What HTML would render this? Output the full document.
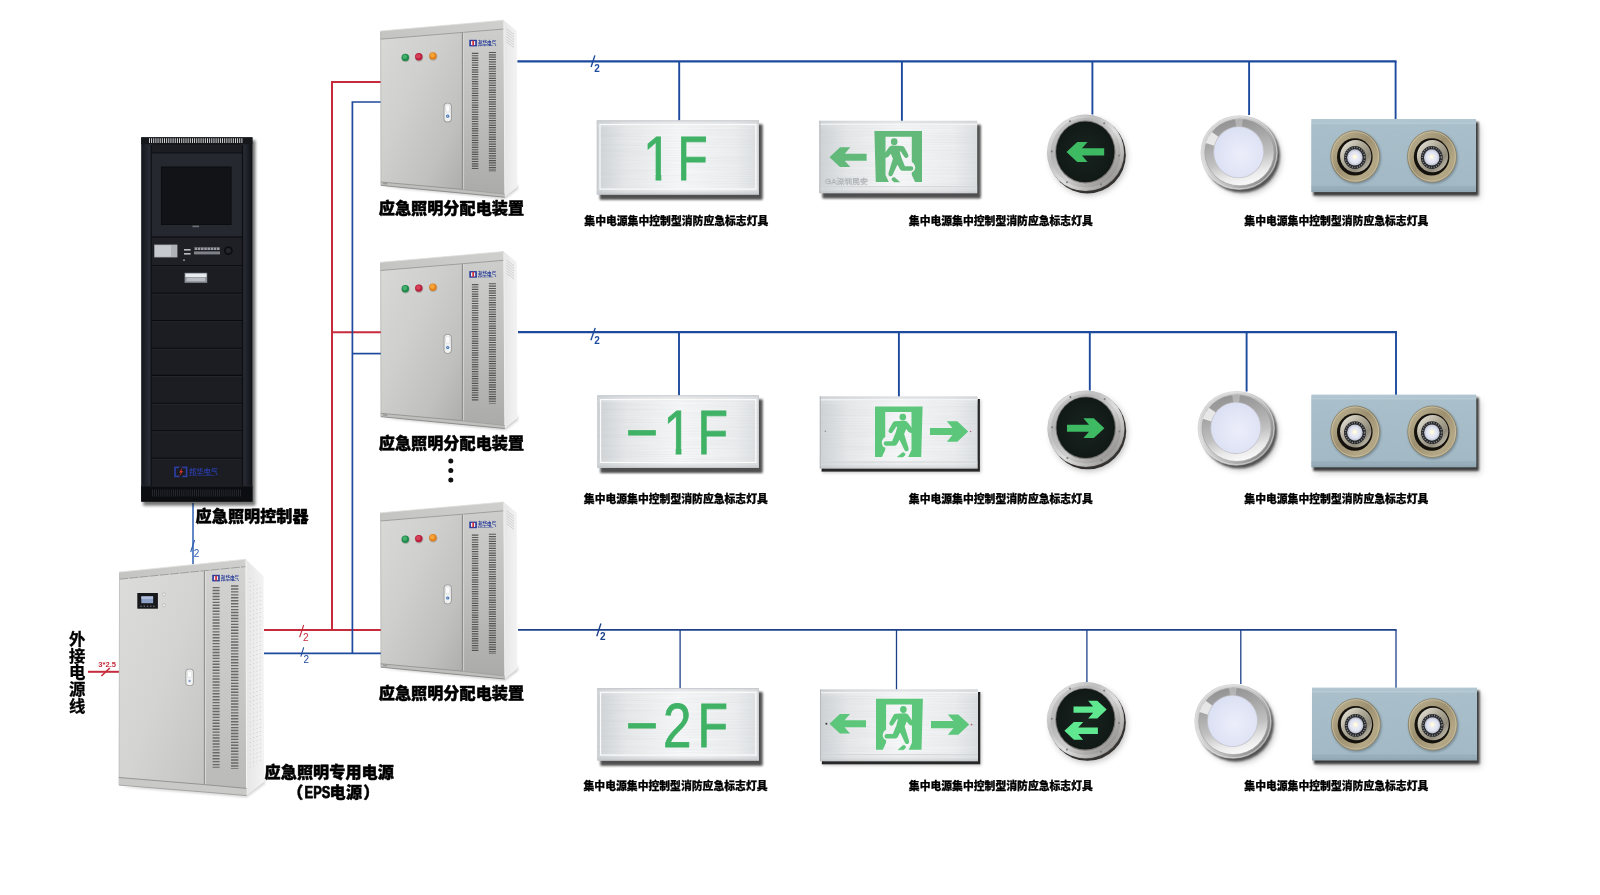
<!DOCTYPE html>
<html lang="zh-CN">
<head>
<meta charset="utf-8">
<title>应急照明系统图</title>
<style>
html,body{margin:0;padding:0;background:#fff;}
body{width:1600px;height:895px;overflow:hidden;}
svg{display:block;font-family:"Liberation Sans","Noto Sans CJK SC",sans-serif;will-change:transform;}
</style>
</head>
<body>
<svg width="1600" height="895" viewBox="0 0 1600 895">
<rect width="1600" height="895" fill="#ffffff"/>

<defs>
  <filter id="blur1" x="-20%" y="-20%" width="140%" height="140%"><feGaussianBlur stdDeviation="1"/></filter>
  <filter id="blur2" x="-20%" y="-20%" width="140%" height="140%"><feGaussianBlur stdDeviation="1.8"/></filter>
  <filter id="blur3" x="-20%" y="-20%" width="140%" height="140%"><feGaussianBlur stdDeviation="3"/></filter>
  <filter id="brush" x="0" y="0" width="100%" height="100%">
    <feTurbulence type="fractalNoise" baseFrequency="0.012 0.85" numOctaves="2" seed="7" result="n"/>
    <feColorMatrix in="n" type="matrix" values="0 0 0 0 0.35  0 0 0 0 0.37  0 0 0 0 0.39  0.9 0 0 0 -0.28"/>
    <feComposite in2="SourceGraphic" operator="in"/>
  </filter>
  <filter id="soft" x="-5%" y="-5%" width="110%" height="110%"><feGaussianBlur stdDeviation="0.45"/></filter>

  <!-- cabinet gradients -->
  <linearGradient id="gDoor" x1="0" y1="0" x2="1" y2="1">
    <stop offset="0" stop-color="#d9d9d7"/><stop offset="0.4" stop-color="#cfcfcd"/><stop offset="0.75" stop-color="#c0c0be"/><stop offset="1" stop-color="#adadab"/>
  </linearGradient>
  <linearGradient id="gPanel" x1="0" y1="0" x2="0" y2="1">
    <stop offset="0" stop-color="#cfcfcd"/><stop offset="0.5" stop-color="#bfbfbd"/><stop offset="1" stop-color="#aaaaa8"/>
  </linearGradient>
  <linearGradient id="gDoorE" x1="0" y1="0" x2="1" y2="1">
    <stop offset="0" stop-color="#dcdcda"/><stop offset="0.5" stop-color="#d4d4d2"/><stop offset="1" stop-color="#c3c3c1"/>
  </linearGradient>
  <linearGradient id="gPanelE" x1="0" y1="0" x2="0" y2="1">
    <stop offset="0" stop-color="#d3d3d1"/><stop offset="0.6" stop-color="#c6c6c4"/><stop offset="1" stop-color="#b9b9b7"/>
  </linearGradient>
  <linearGradient id="gSide" x1="0" y1="0" x2="1" y2="0">
    <stop offset="0" stop-color="#e6e6e6"/><stop offset="1" stop-color="#f3f3f3"/>
  </linearGradient>
  <linearGradient id="gCap" x1="0" y1="0" x2="1" y2="0">
    <stop offset="0" stop-color="#c4c4c2"/><stop offset="1" stop-color="#cfcfcd"/>
  </linearGradient>

  <!-- sign plates -->
  <linearGradient id="gPlate" x1="0" y1="0" x2="1" y2="0">
    <stop offset="0" stop-color="#cfd3d6"/><stop offset="0.18" stop-color="#e6e8ea"/><stop offset="0.5" stop-color="#f6f7f8"/><stop offset="0.85" stop-color="#eceef0"/><stop offset="1" stop-color="#dcdfe2"/>
  </linearGradient>
  <linearGradient id="gPlateV" x1="0" y1="0" x2="0" y2="1">
    <stop offset="0" stop-color="#c8ccd0" stop-opacity="0.55"/><stop offset="0.12" stop-color="#ffffff" stop-opacity="0"/><stop offset="0.88" stop-color="#ffffff" stop-opacity="0"/><stop offset="1" stop-color="#b8bcc0" stop-opacity="0.6"/>
  </linearGradient>
  <linearGradient id="gBrush" x1="0" y1="0" x2="1" y2="0">
    <stop offset="0" stop-color="#c4c8cb"/><stop offset="0.25" stop-color="#dfe1e3"/><stop offset="0.55" stop-color="#f1f2f3"/><stop offset="0.8" stop-color="#e2e4e6"/><stop offset="1" stop-color="#d2d5d8"/>
  </linearGradient>

  <!-- round sign ring -->
  <linearGradient id="gRing" x1="0" y1="0" x2="1" y2="1">
    <stop offset="0" stop-color="#d8d8d8"/><stop offset="0.3" stop-color="#b4b4b4"/><stop offset="0.55" stop-color="#cecece"/><stop offset="0.8" stop-color="#9e9c9a"/><stop offset="1" stop-color="#68645f"/>
  </linearGradient>
  <linearGradient id="gRingHi" x1="0" y1="0" x2="1" y2="1">
    <stop offset="0" stop-color="#ffffff" stop-opacity="0.55"/><stop offset="0.35" stop-color="#ffffff" stop-opacity="0.1"/><stop offset="0.55" stop-color="#ffffff" stop-opacity="0.35"/><stop offset="1" stop-color="#ffffff" stop-opacity="0"/>
  </linearGradient>
  <radialGradient id="gDisc" cx="0.5" cy="0.5" r="0.5">
    <stop offset="0" stop-color="#18241f"/><stop offset="1" stop-color="#111916"/>
  </radialGradient>

  <!-- down light -->
  <linearGradient id="gDLo" x1="0" y1="0.2" x2="1" y2="0.8">
    <stop offset="0" stop-color="#cdcdcd"/><stop offset="0.25" stop-color="#d9d9d9"/><stop offset="0.6" stop-color="#bcbcbc"/><stop offset="1" stop-color="#7c7c7c"/>
  </linearGradient>
  <linearGradient id="gDLi" x1="0.35" y1="0" x2="0.6" y2="1">
    <stop offset="0" stop-color="#929292"/><stop offset="0.3" stop-color="#a6a6a6"/><stop offset="0.6" stop-color="#c0c0c0"/><stop offset="0.82" stop-color="#e8e8e8"/><stop offset="1" stop-color="#fbfbfb"/>
  </linearGradient>
  <radialGradient id="gLens" cx="0.55" cy="0.55" r="0.6">
    <stop offset="0" stop-color="#eceefa"/><stop offset="1" stop-color="#dadff3"/>
  </radialGradient>

  <!-- twin spot -->
  <linearGradient id="gSpotPlate" x1="0" y1="0" x2="0" y2="1">
    <stop offset="0" stop-color="#b4c9d4"/><stop offset="0.08" stop-color="#a9c0cc"/><stop offset="0.9" stop-color="#a3bac6"/><stop offset="1" stop-color="#8da5b1"/>
  </linearGradient>
  <linearGradient id="gBrass" x1="0" y1="0" x2="1" y2="1">
    <stop offset="0" stop-color="#c2b796"/><stop offset="0.45" stop-color="#9c9070"/><stop offset="0.75" stop-color="#b3a786"/><stop offset="1" stop-color="#a89c7c"/>
  </linearGradient>
  <linearGradient id="gSteel" x1="0" y1="0" x2="1" y2="1">
    <stop offset="0" stop-color="#efede4"/><stop offset="0.4" stop-color="#b3ad9b"/><stop offset="0.7" stop-color="#8f8a7a"/><stop offset="1" stop-color="#dcd8ca"/>
  </linearGradient>
  <radialGradient id="gLamp" cx="0.5" cy="0.5" r="0.5">
    <stop offset="0" stop-color="#f4f4fb"/><stop offset="0.7" stop-color="#dfe2ef"/><stop offset="1" stop-color="#b9bccb"/>
  </radialGradient>

  <!-- black rack -->
  <linearGradient id="gRack" x1="0" y1="0" x2="1" y2="0">
    <stop offset="0" stop-color="#14161b"/><stop offset="0.08" stop-color="#2a2d36"/><stop offset="0.12" stop-color="#15171c"/><stop offset="0.88" stop-color="#15171c"/><stop offset="0.93" stop-color="#262931"/><stop offset="1" stop-color="#0f1014"/>
  </linearGradient>
</defs>

<g id="cab"><polygon points="383,187 505,199 518,189 518,185" fill="#777" opacity="0.35" filter="url(#blur1)"/><polygon points="503.7,20.2 516.8,31 517.4,187 504.8,197.1" fill="url(#gSide)"/><line x1="506.5" y1="29.0" x2="514" y2="34.5" stroke="#bdbdbd" stroke-width="0.6"/><line x1="506.5" y1="31.6" x2="514" y2="37.1" stroke="#bdbdbd" stroke-width="0.6"/><line x1="506.5" y1="34.2" x2="514" y2="39.7" stroke="#bdbdbd" stroke-width="0.6"/><line x1="506.5" y1="36.8" x2="514" y2="42.3" stroke="#bdbdbd" stroke-width="0.6"/><line x1="506.5" y1="39.4" x2="514" y2="44.9" stroke="#bdbdbd" stroke-width="0.6"/><line x1="506.5" y1="42.0" x2="514" y2="47.5" stroke="#bdbdbd" stroke-width="0.6"/><polygon points="380.4,31 462.4,24 462.4,193.2 380.8,185.3" fill="url(#gDoor)"/><polygon points="462.4,24 503.7,20.2 504.8,197.1 462.4,193.2" fill="url(#gPanel)"/><polygon points="380.4,31 503.7,20.2 503.9,29 380.4,39.2" fill="url(#gCap)"/><line x1="380.4" y1="39.2" x2="503.9" y2="29" stroke="#9a9a98" stroke-width="0.9"/><line x1="380.4" y1="31" x2="503.7" y2="20.2" stroke="#e2e2e0" stroke-width="0.8"/><line x1="462.4" y1="32.6" x2="462.4" y2="189.6" stroke="#8c8c8a" stroke-width="1.1"/><line x1="463.6" y1="32.6" x2="463.6" y2="189.6" stroke="#dededc" stroke-width="0.7"/><line x1="503.9" y1="21" x2="504.9" y2="196.8" stroke="#f0f0f0" stroke-width="1"/><line x1="380.7" y1="32" x2="381" y2="185" stroke="#b8b8b6" stroke-width="0.8"/><polygon points="380.8,182 462.4,189.4 504.7,194.2 504.8,197.3 462.4,193.4 380.8,185.5" fill="#bfbfbd"/><line x1="380.8" y1="182" x2="462.4" y2="189.4" stroke="#8e8e8c" stroke-width="0.8"/><line x1="462.4" y1="189.6" x2="504.7" y2="194.2" stroke="#9a9a98" stroke-width="0.7"/><line x1="380.8" y1="185.4" x2="504.8" y2="197.2" stroke="#8a8a88" stroke-width="0.9"/><rect x="383" y="182.8" width="4.2" height="1.6" fill="#9a9a98" transform="rotate(5 385 183.5)"/><circle cx="405.6" cy="58.1" r="4.2" fill="#9c9c9a" opacity="0.7"/><circle cx="405.3" cy="57.4" r="3.7" fill="#1f8a4a"/><circle cx="404.8" cy="56.8" r="2.3" fill="#45b06e"/><circle cx="419.1" cy="57.5" r="4.2" fill="#9c9c9a" opacity="0.7"/><circle cx="418.8" cy="56.8" r="3.7" fill="#b71f3a"/><circle cx="418.3" cy="56.199999999999996" r="2.3" fill="#d9405a"/><circle cx="433.2" cy="56.6" r="4.2" fill="#9c9c9a" opacity="0.7"/><circle cx="432.9" cy="55.9" r="3.7" fill="#e4801a"/><circle cx="432.4" cy="55.3" r="2.3" fill="#f6a53a"/><rect x="443.6" y="102.8" width="8.2" height="19.6" rx="3.6" fill="#9a9a98"/><rect x="444.5" y="103.4" width="6.4" height="18.2" rx="3" fill="#eef0f2"/><rect x="445.6" y="105" width="4.2" height="7" rx="1.6" fill="#fbfbfb" stroke="#c8c8c8" stroke-width="0.4"/><circle cx="447.7" cy="116.2" r="1.6" fill="#3d6fb0"/><circle cx="447.7" cy="116.2" r="0.6" fill="#dfe8f5"/><g><rect x="469.3" y="39.8" width="7.589999999999999" height="6.6" fill="#2b3c9c"/><rect x="470.9698" y="41.12" width="4.2504" height="3.9599999999999995" fill="#e9e9ee"/><rect x="472.336" y="40.592" width="1.6697999999999997" height="5.016" fill="#d22a36"/><text x="477.89" y="44.552" font-size="5.28" font-weight="700" fill="#2a3f9a" textLength="18.41" lengthAdjust="spacingAndGlyphs">邦华电气</text><rect x="477.89" y="45.343999999999994" width="15.41" height="0.7" fill="#2a3f9a" opacity="0.6"/></g><line x1="475.1" y1="52.8" x2="475.1" y2="170" stroke="#3f3f3d" stroke-width="6.5" stroke-dasharray="1.15 1.2" opacity="0.82"/><line x1="492.4" y1="51.9" x2="492.4" y2="172.1" stroke="#3f3f3d" stroke-width="7.1" stroke-dasharray="1.15 1.2" opacity="0.82"/></g>
<use href="#cab" y="231.3"/>
<use href="#cab" y="481.8"/>
<polyline points="380.6,82 332,82 332,630" fill="none" stroke="#c62b3c" stroke-width="2"/><line x1="332" y1="332.2" x2="380.8" y2="332.2" stroke="#c62b3c" stroke-width="2" /><line x1="264" y1="630" x2="380.8" y2="630" stroke="#c62b3c" stroke-width="2" /><polyline points="380.6,102 352.4,102 352.4,653.4" fill="none" stroke="#1d4a9d" stroke-width="1.7"/><line x1="352.4" y1="353.6" x2="380.8" y2="353.6" stroke="#1d4a9d" stroke-width="1.7" /><line x1="264" y1="653.4" x2="380.8" y2="653.4" stroke="#1d4a9d" stroke-width="1.7" /><line x1="303.7" y1="625" x2="299.6" y2="637.2" stroke="#c62b3c" stroke-width="1.1" /><text x="303" y="641" font-size="10" font-weight="400" fill="#c62b3c" text-anchor="start" >2</text><line x1="303.7" y1="647.3" x2="300.8" y2="656.6" stroke="#1d4a9d" stroke-width="1.1" /><text x="303.4" y="663.4" font-size="10" font-weight="400" fill="#1d4a9d" text-anchor="start" >2</text><line x1="193" y1="503" x2="193" y2="564.5" stroke="#2c5fb4" stroke-width="1.5" /><line x1="194.6" y1="540" x2="190.7" y2="552" stroke="#2c5fb4" stroke-width="1.1" /><text x="193.8" y="556.8" font-size="10" font-weight="400" fill="#2c5fb4" text-anchor="start" >2</text><line x1="88" y1="671.8" x2="119.5" y2="671.8" stroke="#c62b3c" stroke-width="2" /><line x1="101.4" y1="676" x2="109.8" y2="668" stroke="#c62b3c" stroke-width="1.6" /><text x="98.3" y="667.2" font-size="6.4" font-weight="700" fill="#c62b3c" text-anchor="start" textLength="17.8" lengthAdjust="spacingAndGlyphs">3*2.5</text>
<line x1="517.4" y1="61.4" x2="1396.55" y2="61.4" stroke="#1d4a9d" stroke-width="2.3" /><line x1="679.2" y1="61.4" x2="679.2" y2="121" stroke="#1d4a9d" stroke-width="1.9" /><line x1="901.9" y1="61.4" x2="901.9" y2="121.5" stroke="#1d4a9d" stroke-width="1.9" /><line x1="1092.4" y1="61.4" x2="1092.4" y2="114.5" stroke="#1d4a9d" stroke-width="1.9" /><line x1="1249.1" y1="61.4" x2="1249.1" y2="115" stroke="#1d4a9d" stroke-width="1.9" /><line x1="1395.6" y1="61.4" x2="1395.6" y2="119.5" stroke="#1d4a9d" stroke-width="1.9" /><line x1="594.9" y1="55.4" x2="591.1" y2="67" stroke="#1d4a9d" stroke-width="1.4" /><text x="594.2" y="71.5" font-size="10" font-weight="700" fill="#1d4a9d" text-anchor="start" >2</text>
<line x1="518" y1="332.2" x2="1396.95" y2="332.2" stroke="#1d4a9d" stroke-width="2.3" /><line x1="679" y1="332.2" x2="679" y2="396" stroke="#1d4a9d" stroke-width="1.9" /><line x1="898.9" y1="332.2" x2="898.9" y2="397" stroke="#1d4a9d" stroke-width="1.9" /><line x1="1089.8" y1="332.2" x2="1089.8" y2="390.5" stroke="#1d4a9d" stroke-width="1.9" /><line x1="1246.6" y1="332.2" x2="1246.6" y2="391.5" stroke="#1d4a9d" stroke-width="1.9" /><line x1="1396" y1="332.2" x2="1396" y2="395" stroke="#1d4a9d" stroke-width="1.9" /><line x1="595.2" y1="327.9" x2="590.9" y2="340.2" stroke="#1d4a9d" stroke-width="1.4" /><text x="594.3" y="344.3" font-size="10" font-weight="700" fill="#1d4a9d" text-anchor="start" >2</text>
<line x1="518" y1="629.9" x2="1396.65" y2="629.9" stroke="#1c4189" stroke-width="1.8" /><line x1="680.1" y1="629.9" x2="680.1" y2="689" stroke="#1c4189" stroke-width="1.3" /><line x1="896.5" y1="629.9" x2="896.5" y2="690" stroke="#1c4189" stroke-width="1.3" /><line x1="1086.9" y1="629.9" x2="1086.9" y2="682" stroke="#1c4189" stroke-width="1.3" /><line x1="1240.8" y1="629.9" x2="1240.8" y2="684" stroke="#1c4189" stroke-width="1.3" /><line x1="1396" y1="629.9" x2="1396" y2="688" stroke="#1c4189" stroke-width="1.3" /><line x1="600.9" y1="623.5" x2="596.8" y2="636.3" stroke="#1c4189" stroke-width="1.4" /><text x="599.9" y="640.3" font-size="10" font-weight="700" fill="#1c4189" text-anchor="start" >2</text>
<rect x="599.8" y="124.4" width="162.7" height="75.3" fill="#2e2e2e" opacity="0.85" filter="url(#blur1)"/><rect x="600.8" y="125.4" width="161.2" height="73.1" fill="#555" opacity="0.25" filter="url(#blur2)"/><rect x="596.8" y="120.4" width="162.2" height="74.1" fill="url(#gPlate)"/><rect x="596.8" y="120.4" width="162.2" height="74.1" fill="url(#gPlateV)"/><rect x="596.8" y="120.4" width="162.2" height="74.1" fill="#000" filter="url(#brush)" opacity="0.2"/><rect x="600.0" y="124.60000000000001" width="155.79999999999998" height="64.5" fill="none" stroke="#fbfbfb" stroke-width="1.2"/><rect x="597.1999999999999" y="120.80000000000001" width="161.39999999999998" height="73.3" fill="none" stroke="#c5c9cc" stroke-width="0.8"/><clipPath id="clipOne1"><path clip-rule="evenodd" d="M0,0 H1600 V895 H0 Z M644.73,174.10000000000002 H655.61 V181.8 H644.73 Z M661.28,174.10000000000002 H671.57 V181.8 H661.28 Z"/></clipPath><text y="179.8" font-size="63.2" font-weight="400" fill="#3fb266" stroke="#3fb266" stroke-width="0.8" clip-path="url(#clipOne1)"><tspan x="643.12" textLength="28.81" lengthAdjust="spacingAndGlyphs">1</tspan><tspan x="677.31" textLength="30.51" lengthAdjust="spacingAndGlyphs">F</tspan></text>
<rect x="600.4" y="399.4" width="162.1" height="73.60000000000001" fill="#2e2e2e" opacity="0.85" filter="url(#blur1)"/><rect x="601.4" y="400.4" width="160.6" height="71.4" fill="#555" opacity="0.25" filter="url(#blur2)"/><rect x="597.4" y="395.4" width="161.6" height="72.4" fill="url(#gPlate)"/><rect x="597.4" y="395.4" width="161.6" height="72.4" fill="url(#gPlateV)"/><rect x="597.4" y="395.4" width="161.6" height="72.4" fill="#000" filter="url(#brush)" opacity="0.2"/><rect x="600.6" y="399.59999999999997" width="155.2" height="62.800000000000004" fill="none" stroke="#fbfbfb" stroke-width="1.2"/><rect x="597.8" y="395.79999999999995" width="160.79999999999998" height="71.60000000000001" fill="none" stroke="#c5c9cc" stroke-width="0.8"/><clipPath id="clipOne2"><path clip-rule="evenodd" d="M0,0 H1600 V895 H0 Z M664.83,448.0 H675.71 V455.7 H664.83 Z M681.38,448.0 H691.67 V455.7 H681.38 Z"/></clipPath><text y="453.7" font-size="63.2" font-weight="400" fill="#3fb266" stroke="#3fb266" stroke-width="0.8" clip-path="url(#clipOne2)"><tspan x="625.67" textLength="32.48" lengthAdjust="spacingAndGlyphs">−</tspan><tspan x="663.22" textLength="28.81" lengthAdjust="spacingAndGlyphs">1</tspan><tspan x="697.61" textLength="30.51" lengthAdjust="spacingAndGlyphs">F</tspan></text>
<rect x="600.4" y="692.1" width="162.1" height="73.60000000000001" fill="#2e2e2e" opacity="0.85" filter="url(#blur1)"/><rect x="601.4" y="693.1" width="160.6" height="71.4" fill="#555" opacity="0.25" filter="url(#blur2)"/><rect x="597.4" y="688.1" width="161.6" height="72.4" fill="url(#gPlate)"/><rect x="597.4" y="688.1" width="161.6" height="72.4" fill="url(#gPlateV)"/><rect x="597.4" y="688.1" width="161.6" height="72.4" fill="#000" filter="url(#brush)" opacity="0.2"/><rect x="600.6" y="692.3000000000001" width="155.2" height="62.800000000000004" fill="none" stroke="#fbfbfb" stroke-width="1.2"/><rect x="597.8" y="688.5" width="160.79999999999998" height="71.60000000000001" fill="none" stroke="#c5c9cc" stroke-width="0.8"/><text y="746.7" font-size="63.2" font-weight="400" fill="#3fb266" stroke="#3fb266" stroke-width="0.8"><tspan x="625.67" textLength="32.48" lengthAdjust="spacingAndGlyphs">−</tspan><tspan x="662.94" textLength="28.46" lengthAdjust="spacingAndGlyphs">2</tspan><tspan x="697.61" textLength="30.51" lengthAdjust="spacingAndGlyphs">F</tspan></text>
<defs><g id="doorR"><g fill="#5cc67a" stroke="#5cc67a" stroke-width="1.5" stroke-linejoin="round"><path stroke="none" d="M0,0 H47.6 L46.2,50.5 H33.2 L36.5,43.6 V5.6 H10.2 V30.6 Q6.2,33 6.9,37.4 Q7.7,40.6 10.2,41 V43.6 L6.9,50.5 H0 Z"/><circle cx="27.8" cy="10.6" r="2.6"/><path d="M19.8,15.6 L29.3,15 Q31.3,15.2 32.4,16.6 L36.1,21.8 L39.6,23.6 L39.6,26.2 L35,25.4 Q34,25 33.4,24 L31,21 L28.3,27.4 L32.8,41.8 Q33.3,43.4 32,44 Q30.7,44.4 30,43 L24.6,31.6 L21.4,37.4 Q20.6,38.6 19.2,38.6 L11,38.6 Q9.4,38.4 9.4,37 Q9.5,35.7 11,35.6 L17.6,35.6 L21.4,26.4 L23.4,19.2 L20.8,19.6 L17,25.2 Q16,26.4 14.8,25.6 Q13.8,24.8 14.6,23.4 L18.2,16.8 Q18.8,15.7 19.8,15.6 Z"/><path stroke-width="0.5" d="M22.4,50.5 L27,46.4 Q28.2,45.6 29.4,46.4 L30,47.2 Q30.4,48.2 29.6,49 L27.8,50.5 Z"/></g></g><g id="doorM"><g fill="#62b97a" stroke="#62b97a" stroke-width="1.5" stroke-linejoin="round"><path stroke="none" d="M0,0 H47.6 L46.2,50.5 H33.2 L36.5,43.6 V5.6 H10.2 V30.6 Q6.2,33 6.9,37.4 Q7.7,40.6 10.2,41 V43.6 L6.9,50.5 H0 Z"/><circle cx="27.8" cy="10.6" r="2.6"/><path d="M19.8,15.6 L29.3,15 Q31.3,15.2 32.4,16.6 L36.1,21.8 L39.6,23.6 L39.6,26.2 L35,25.4 Q34,25 33.4,24 L31,21 L28.3,27.4 L32.8,41.8 Q33.3,43.4 32,44 Q30.7,44.4 30,43 L24.6,31.6 L21.4,37.4 Q20.6,38.6 19.2,38.6 L11,38.6 Q9.4,38.4 9.4,37 Q9.5,35.7 11,35.6 L17.6,35.6 L21.4,26.4 L23.4,19.2 L20.8,19.6 L17,25.2 Q16,26.4 14.8,25.6 Q13.8,24.8 14.6,23.4 L18.2,16.8 Q18.8,15.7 19.8,15.6 Z"/><path stroke-width="0.5" d="M22.4,50.5 L27,46.4 Q28.2,45.6 29.4,46.4 L30,47.2 Q30.4,48.2 29.6,49 L27.8,50.5 Z"/></g></g></defs>
<rect x="822.4" y="124.8" width="158.3" height="73.60000000000001" fill="#2e2e2e" opacity="0.85" filter="url(#blur1)"/><rect x="823.4" y="125.8" width="156.8" height="71.4" fill="#555" opacity="0.25" filter="url(#blur2)"/><rect x="819.4" y="120.8" width="157.8" height="72.4" fill="url(#gPlate)"/><rect x="819.4" y="120.8" width="157.8" height="72.4" fill="url(#gPlateV)"/><rect x="819.4" y="120.8" width="157.8" height="72.4" fill="#000" filter="url(#brush)" opacity="0.2"/><line x1="819.4" y1="124.2" x2="977.2" y2="124.2" stroke="#fafafa" stroke-width="1"/><line x1="819.4" y1="186.7" x2="977.2" y2="186.7" stroke="#c9cdd0" stroke-width="0.8"/><line x1="819.9" y1="120.8" x2="819.9" y2="193.2" stroke="#b4b8bc" stroke-width="1"/><use href="#doorM" transform="translate(922,131) scale(-1,1.01)"/><polygon fill="#62b97a" points="829.5,157.2 840.0,147.3 850.3,147.3 844.7,153.7 866.6,153.7 866.6,160.7 844.7,160.7 850.3,167.1 840.0,167.1" /><text x="825" y="183.6" font-size="6.6" font-weight="400" fill="none" stroke="#a9adb0" stroke-width="0.35" textLength="43" lengthAdjust="spacingAndGlyphs">GA深圳民安</text>
<rect x="821.5999999999999" y="399.0" width="158.3" height="72.6" fill="#161616" filter="url(#soft)"/><rect x="822.3" y="399.9" width="158.8" height="73.1" fill="#555" opacity="0.3" filter="url(#blur2)"/><rect x="819.8" y="396.4" width="157.8" height="72.1" fill="url(#gPlate)"/><rect x="819.8" y="396.4" width="157.8" height="72.1" fill="url(#gPlateV)"/><rect x="819.8" y="396.4" width="157.8" height="72.1" fill="#000" filter="url(#brush)" opacity="0.2"/><line x1="819.8" y1="399.79999999999995" x2="977.5999999999999" y2="399.79999999999995" stroke="#fafafa" stroke-width="1"/><line x1="819.8" y1="462.0" x2="977.5999999999999" y2="462.0" stroke="#c9cdd0" stroke-width="0.8"/><line x1="820.3" y1="396.4" x2="820.3" y2="468.5" stroke="#b4b8bc" stroke-width="1"/><use href="#doorR" transform="translate(875,406.5)"/><polygon fill="#5cc67a" points="968.2,431.5 957.3,421.3 946.8,421.3 952.5,427.9 930.0,427.9 930.0,435.1 952.5,435.1 946.8,441.7 957.3,441.7" /><circle cx="825.3" cy="431.3" r="0.7" fill="#8a8a8a"/><circle cx="970.6" cy="431.5" r="0.8" fill="#b06a78"/>
<rect x="821.9" y="692.0" width="158.4" height="72.3" fill="#161616" filter="url(#soft)"/><rect x="822.6" y="692.9" width="158.9" height="72.8" fill="#555" opacity="0.3" filter="url(#blur2)"/><rect x="820.1" y="689.4" width="157.9" height="71.8" fill="url(#gPlate)"/><rect x="820.1" y="689.4" width="157.9" height="71.8" fill="url(#gPlateV)"/><rect x="820.1" y="689.4" width="157.9" height="71.8" fill="#000" filter="url(#brush)" opacity="0.2"/><line x1="820.1" y1="692.8" x2="978.0" y2="692.8" stroke="#fafafa" stroke-width="1"/><line x1="820.1" y1="754.6999999999999" x2="978.0" y2="754.6999999999999" stroke="#c9cdd0" stroke-width="0.8"/><line x1="820.6" y1="689.4" x2="820.6" y2="761.1999999999999" stroke="#b4b8bc" stroke-width="1"/><use href="#doorR" transform="translate(876,698.8) scale(0.985,1.01)"/><polygon fill="#5cc67a" points="829.5,723.8 839.9,714.1 850.0,714.1 844.5,720.3 866.0,720.3 866.0,727.3 844.5,727.3 850.0,733.5 839.9,733.5" /><polygon fill="#5cc67a" points="969.2,724.6 958.3,714.4 947.8,714.4 953.5,721.0 931.0,721.0 931.0,728.2 953.5,728.2 947.8,734.8 958.3,734.8" /><circle cx="826.4" cy="723.8" r="1" fill="#3a3a3a"/><circle cx="971.6" cy="724.6" r="0.9" fill="#b06a78"/>
<ellipse cx="1087.3999999999999" cy="155.0" rx="38.4" ry="38.4" fill="#1a1614" opacity="0.95" filter="url(#soft)"/><ellipse cx="1088.8" cy="157.0" rx="38" ry="38" fill="#555" opacity="0.4" filter="url(#blur3)"/><ellipse cx="1085.6" cy="152.8" rx="38.6" ry="38.3" fill="url(#gRing)"/><ellipse cx="1085.6" cy="152.8" rx="36.6" ry="36.3" fill="none" stroke="url(#gRingHi)" stroke-width="3.2"/><ellipse cx="1085.3999999999999" cy="152.0" rx="30.2" ry="31.4" fill="#7d7b79"/><ellipse cx="1085.3" cy="151.8" rx="29.2" ry="30.4" fill="url(#gDisc)"/><circle cx="1051.8" cy="151.4" r="1.05" fill="#7f7f7f"/><circle cx="1119.0" cy="155.60000000000002" r="1.05" fill="#7f7f7f"/><circle cx="1070.0" cy="121.20000000000002" r="1.05" fill="#7f7f7f"/><circle cx="1104.1999999999998" cy="123.20000000000002" r="1.05" fill="#7f7f7f"/><circle cx="1067.0" cy="182.20000000000002" r="1.05" fill="#7f7f7f"/><circle cx="1101.0" cy="184.4" r="1.05" fill="#7f7f7f"/><polygon fill="#3dba62" points="1066.5,151.9 1077.2,141.9 1087.6,141.9 1082.0,148.3 1104.2,148.3 1104.2,155.5 1082.0,155.5 1087.6,161.9 1077.2,161.9" />
<ellipse cx="1087.8" cy="430.9" rx="38.4" ry="38.4" fill="#1a1614" opacity="0.95" filter="url(#soft)"/><ellipse cx="1089.2" cy="432.9" rx="38" ry="38" fill="#555" opacity="0.4" filter="url(#blur3)"/><ellipse cx="1086" cy="428.7" rx="38.6" ry="38.3" fill="url(#gRing)"/><ellipse cx="1086" cy="428.7" rx="36.6" ry="36.3" fill="none" stroke="url(#gRingHi)" stroke-width="3.2"/><ellipse cx="1085.8" cy="427.9" rx="30.2" ry="31.4" fill="#7d7b79"/><ellipse cx="1085.7" cy="427.7" rx="29.2" ry="30.4" fill="url(#gDisc)"/><circle cx="1052.2" cy="427.3" r="1.05" fill="#7f7f7f"/><circle cx="1119.4" cy="431.5" r="1.05" fill="#7f7f7f"/><circle cx="1070.4" cy="397.09999999999997" r="1.05" fill="#7f7f7f"/><circle cx="1104.6" cy="399.09999999999997" r="1.05" fill="#7f7f7f"/><circle cx="1067.4" cy="458.09999999999997" r="1.05" fill="#7f7f7f"/><circle cx="1101.4" cy="460.3" r="1.05" fill="#7f7f7f"/><polygon fill="#3dba62" points="1104.4,428.2 1093.8,418.3 1083.4,418.3 1089.0,424.7 1067.0,424.7 1067.0,431.7 1089.0,431.7 1083.4,438.1 1093.8,438.1" />
<ellipse cx="1087.3999999999999" cy="722.4000000000001" rx="38.4" ry="38.4" fill="#1a1614" opacity="0.95" filter="url(#soft)"/><ellipse cx="1088.8" cy="724.4000000000001" rx="38" ry="38" fill="#555" opacity="0.4" filter="url(#blur3)"/><ellipse cx="1085.6" cy="720.2" rx="38.6" ry="38.3" fill="url(#gRing)"/><ellipse cx="1085.6" cy="720.2" rx="36.6" ry="36.3" fill="none" stroke="url(#gRingHi)" stroke-width="3.2"/><ellipse cx="1085.3999999999999" cy="719.4000000000001" rx="30.2" ry="31.4" fill="#7d7b79"/><ellipse cx="1085.3" cy="719.2" rx="29.2" ry="30.4" fill="url(#gDisc)"/><circle cx="1051.8" cy="718.8000000000001" r="1.05" fill="#7f7f7f"/><circle cx="1119.0" cy="723.0" r="1.05" fill="#7f7f7f"/><circle cx="1070.0" cy="688.6" r="1.05" fill="#7f7f7f"/><circle cx="1104.1999999999998" cy="690.6" r="1.05" fill="#7f7f7f"/><circle cx="1067.0" cy="749.6" r="1.05" fill="#7f7f7f"/><circle cx="1101.0" cy="751.8000000000001" r="1.05" fill="#7f7f7f"/><polygon fill="#5fe890" points="1106.7,709.6 1097.3,700.8 1088.1,700.8 1093.1,706.5 1073.5,706.5 1073.5,712.7 1093.1,712.7 1088.1,718.4 1097.3,718.4" /><polygon fill="#5fe890" points="1064.4,730.8 1073.9,721.9 1083.2,721.9 1078.2,727.6 1097.9,727.6 1097.9,734.0 1078.2,734.0 1083.2,739.7 1073.9,739.7" />
<ellipse cx="1241.7" cy="155.2" rx="38.2" ry="37.4" fill="#303030" opacity="0.85" filter="url(#blur1)"/><ellipse cx="1244.3" cy="158.1" rx="36.5" ry="36" fill="#555" opacity="0.4" filter="url(#blur3)"/><ellipse cx="1239.3" cy="152.6" rx="38.8" ry="37.4" fill="url(#gDLo)"/><ellipse cx="1239.3" cy="152.6" rx="37.6" ry="36.2" fill="none" stroke="#e8e8e8" stroke-width="1" opacity="0.6"/><ellipse cx="1239.5" cy="152.4" rx="34.6" ry="33.4" fill="url(#gDLi)"/><ellipse cx="1239.5" cy="152.4" rx="34.6" ry="33.4" fill="none" stroke="#9e9e9e" stroke-width="0.8" opacity="0.8"/><path d="M1215.1,146.1 L1205.7,143.1 A34.6,33.4 0 0 1 1211.8,132.0 L1219.5,137.4 Z" fill="#ffffff" opacity="0.75" filter="url(#soft)"/><path d="M1236.3,127.6 L1235.1,119.19999999999999 A34.6,33.4 0 0 1 1242.8,119.19999999999999 L1241.8999999999999,127.6 Z" fill="#ffffff" opacity="0.28" filter="url(#soft)"/><ellipse cx="1238.7" cy="152.2" rx="25.4" ry="26" fill="#c4c5cc"/><ellipse cx="1238.7" cy="152.2" rx="24.6" ry="25.2" fill="url(#gLens)"/>
<ellipse cx="1238.8000000000002" cy="430.90000000000003" rx="38.2" ry="37.4" fill="#303030" opacity="0.85" filter="url(#blur1)"/><ellipse cx="1241.4" cy="433.8" rx="36.5" ry="36" fill="#555" opacity="0.4" filter="url(#blur3)"/><ellipse cx="1236.4" cy="428.3" rx="38.8" ry="37.4" fill="url(#gDLo)"/><ellipse cx="1236.4" cy="428.3" rx="37.6" ry="36.2" fill="none" stroke="#e8e8e8" stroke-width="1" opacity="0.6"/><ellipse cx="1236.6000000000001" cy="428.1" rx="34.6" ry="33.4" fill="url(#gDLi)"/><ellipse cx="1236.6000000000001" cy="428.1" rx="34.6" ry="33.4" fill="none" stroke="#9e9e9e" stroke-width="0.8" opacity="0.8"/><path d="M1212.2,421.8 L1202.8000000000002,418.8 A34.6,33.4 0 0 1 1208.9,407.7 L1216.6000000000001,413.1 Z" fill="#ffffff" opacity="0.75" filter="url(#soft)"/><path d="M1233.4,403.3 L1232.2,394.90000000000003 A34.6,33.4 0 0 1 1239.9,394.90000000000003 L1239.0,403.3 Z" fill="#ffffff" opacity="0.28" filter="url(#soft)"/><ellipse cx="1235.8000000000002" cy="427.90000000000003" rx="25.4" ry="26" fill="#c4c5cc"/><ellipse cx="1235.8000000000002" cy="427.90000000000003" rx="24.6" ry="25.2" fill="url(#gLens)"/>
<ellipse cx="1235.5" cy="724.0" rx="38.2" ry="37.4" fill="#303030" opacity="0.85" filter="url(#blur1)"/><ellipse cx="1238.1" cy="726.9" rx="36.5" ry="36" fill="#555" opacity="0.4" filter="url(#blur3)"/><ellipse cx="1233.1" cy="721.4" rx="38.8" ry="37.4" fill="url(#gDLo)"/><ellipse cx="1233.1" cy="721.4" rx="37.6" ry="36.2" fill="none" stroke="#e8e8e8" stroke-width="1" opacity="0.6"/><ellipse cx="1233.3" cy="721.1999999999999" rx="34.6" ry="33.4" fill="url(#gDLi)"/><ellipse cx="1233.3" cy="721.1999999999999" rx="34.6" ry="33.4" fill="none" stroke="#9e9e9e" stroke-width="0.8" opacity="0.8"/><path d="M1208.8999999999999,714.9 L1199.5,711.9 A34.6,33.4 0 0 1 1205.6,700.8 L1213.3,706.1999999999999 Z" fill="#ffffff" opacity="0.75" filter="url(#soft)"/><path d="M1230.1,696.4 L1228.8999999999999,688.0 A34.6,33.4 0 0 1 1236.6,688.0 L1235.6999999999998,696.4 Z" fill="#ffffff" opacity="0.28" filter="url(#soft)"/><ellipse cx="1232.5" cy="721.0" rx="25.4" ry="26" fill="#c4c5cc"/><ellipse cx="1232.5" cy="721.0" rx="24.6" ry="25.2" fill="url(#gLens)"/>
<rect x="1313.3" y="122" width="165.2" height="73.69999999999999" fill="#1c1c1c" opacity="0.9" filter="url(#blur1)"/><rect x="1315.3" y="125" width="164.7" height="73.1" fill="#555" opacity="0.3" filter="url(#blur3)"/><rect x="1311.3" y="119" width="164.7" height="73.1" fill="url(#gSpotPlate)"/><rect x="1311.3" y="119" width="164.7" height="73.1" fill="#000" filter="url(#brush)" opacity="0.14"/><line x1="1311.3" y1="123.2" x2="1476.0" y2="123.2" stroke="#c0d2db" stroke-width="0.8"/><line x1="1311.3" y1="187.1" x2="1476.0" y2="187.1" stroke="#93abb7" stroke-width="0.8"/><ellipse cx="1356.1000000000001" cy="157.7" rx="25" ry="26.4" fill="#55666f" opacity="0.55" filter="url(#blur1)"/><ellipse cx="1355.2" cy="156.5" rx="24.7" ry="26" fill="url(#gBrass)"/><ellipse cx="1355.2" cy="156.5" rx="24.4" ry="25.7" fill="none" stroke="#5f5842" stroke-width="0.7" opacity="0.55"/><ellipse cx="1355.2" cy="156.5" rx="23.4" ry="24.7" fill="none" stroke="#d9d0b4" stroke-width="0.9" opacity="0.6"/><ellipse cx="1354.8" cy="156.9" rx="17.8" ry="18.7" fill="#15120d"/><ellipse cx="1355.7" cy="156.1" rx="15.6" ry="16.2" fill="url(#gSteel)"/><ellipse cx="1355.0" cy="157.5" rx="11" ry="11.4" fill="#26272b"/><ellipse cx="1355.0" cy="157.5" rx="9.6" ry="10" fill="none" stroke="#c9c9c9" stroke-width="1.6" stroke-dasharray="0.9 1.6" opacity="0.65"/><ellipse cx="1354.9" cy="157.4" rx="7.8" ry="8.1" fill="url(#gLamp)"/><circle cx="1354.8" cy="156.7" r="2.3" fill="#fff7cf"/><circle cx="1354.8" cy="156.7" r="1.1" fill="#ffffff"/><ellipse cx="1432.9" cy="157.7" rx="25" ry="26.4" fill="#55666f" opacity="0.55" filter="url(#blur1)"/><ellipse cx="1432.0" cy="156.5" rx="24.7" ry="26" fill="url(#gBrass)"/><ellipse cx="1432.0" cy="156.5" rx="24.4" ry="25.7" fill="none" stroke="#5f5842" stroke-width="0.7" opacity="0.55"/><ellipse cx="1432.0" cy="156.5" rx="23.4" ry="24.7" fill="none" stroke="#d9d0b4" stroke-width="0.9" opacity="0.6"/><ellipse cx="1431.6" cy="156.9" rx="17.8" ry="18.7" fill="#15120d"/><ellipse cx="1432.5" cy="156.1" rx="15.6" ry="16.2" fill="url(#gSteel)"/><ellipse cx="1431.8" cy="157.5" rx="11" ry="11.4" fill="#26272b"/><ellipse cx="1431.8" cy="157.5" rx="9.6" ry="10" fill="none" stroke="#c9c9c9" stroke-width="1.6" stroke-dasharray="0.9 1.6" opacity="0.65"/><ellipse cx="1431.7" cy="157.4" rx="7.8" ry="8.1" fill="url(#gLamp)"/><circle cx="1431.6" cy="156.7" r="2.3" fill="#fff7cf"/><circle cx="1431.6" cy="156.7" r="1.1" fill="#ffffff"/>
<rect x="1313.3" y="397.6" width="165.5" height="73.3" fill="#1c1c1c" opacity="0.9" filter="url(#blur1)"/><rect x="1315.3" y="400.6" width="165" height="72.7" fill="#555" opacity="0.3" filter="url(#blur3)"/><rect x="1311.3" y="394.6" width="165" height="72.7" fill="url(#gSpotPlate)"/><rect x="1311.3" y="394.6" width="165" height="72.7" fill="#000" filter="url(#brush)" opacity="0.14"/><line x1="1311.3" y1="398.8" x2="1476.3" y2="398.8" stroke="#c0d2db" stroke-width="0.8"/><line x1="1311.3" y1="462.3" x2="1476.3" y2="462.3" stroke="#93abb7" stroke-width="0.8"/><ellipse cx="1356.1000000000001" cy="432.90000000000003" rx="25" ry="26.4" fill="#55666f" opacity="0.55" filter="url(#blur1)"/><ellipse cx="1355.2" cy="431.70000000000005" rx="24.7" ry="26" fill="url(#gBrass)"/><ellipse cx="1355.2" cy="431.70000000000005" rx="24.4" ry="25.7" fill="none" stroke="#5f5842" stroke-width="0.7" opacity="0.55"/><ellipse cx="1355.2" cy="431.70000000000005" rx="23.4" ry="24.7" fill="none" stroke="#d9d0b4" stroke-width="0.9" opacity="0.6"/><ellipse cx="1354.8" cy="432.1" rx="17.8" ry="18.7" fill="#15120d"/><ellipse cx="1355.7" cy="431.30000000000007" rx="15.6" ry="16.2" fill="url(#gSteel)"/><ellipse cx="1355.0" cy="432.70000000000005" rx="11" ry="11.4" fill="#26272b"/><ellipse cx="1355.0" cy="432.70000000000005" rx="9.6" ry="10" fill="none" stroke="#c9c9c9" stroke-width="1.6" stroke-dasharray="0.9 1.6" opacity="0.65"/><ellipse cx="1354.9" cy="432.6" rx="7.8" ry="8.1" fill="url(#gLamp)"/><circle cx="1354.8" cy="431.90000000000003" r="2.3" fill="#fff7cf"/><circle cx="1354.8" cy="431.90000000000003" r="1.1" fill="#ffffff"/><ellipse cx="1433.1000000000001" cy="432.90000000000003" rx="25" ry="26.4" fill="#55666f" opacity="0.55" filter="url(#blur1)"/><ellipse cx="1432.2" cy="431.70000000000005" rx="24.7" ry="26" fill="url(#gBrass)"/><ellipse cx="1432.2" cy="431.70000000000005" rx="24.4" ry="25.7" fill="none" stroke="#5f5842" stroke-width="0.7" opacity="0.55"/><ellipse cx="1432.2" cy="431.70000000000005" rx="23.4" ry="24.7" fill="none" stroke="#d9d0b4" stroke-width="0.9" opacity="0.6"/><ellipse cx="1431.8" cy="432.1" rx="17.8" ry="18.7" fill="#15120d"/><ellipse cx="1432.7" cy="431.30000000000007" rx="15.6" ry="16.2" fill="url(#gSteel)"/><ellipse cx="1432.0" cy="432.70000000000005" rx="11" ry="11.4" fill="#26272b"/><ellipse cx="1432.0" cy="432.70000000000005" rx="9.6" ry="10" fill="none" stroke="#c9c9c9" stroke-width="1.6" stroke-dasharray="0.9 1.6" opacity="0.65"/><ellipse cx="1431.9" cy="432.6" rx="7.8" ry="8.1" fill="url(#gLamp)"/><circle cx="1431.8" cy="431.90000000000003" r="2.3" fill="#fff7cf"/><circle cx="1431.8" cy="431.90000000000003" r="1.1" fill="#ffffff"/>
<rect x="1314" y="690.6" width="165.5" height="73.5" fill="#1c1c1c" opacity="0.9" filter="url(#blur1)"/><rect x="1316" y="693.6" width="165" height="72.9" fill="#555" opacity="0.3" filter="url(#blur3)"/><rect x="1312" y="687.6" width="165" height="72.9" fill="url(#gSpotPlate)"/><rect x="1312" y="687.6" width="165" height="72.9" fill="#000" filter="url(#brush)" opacity="0.14"/><line x1="1312" y1="691.8000000000001" x2="1477" y2="691.8000000000001" stroke="#c0d2db" stroke-width="0.8"/><line x1="1312" y1="755.5" x2="1477" y2="755.5" stroke="#93abb7" stroke-width="0.8"/><ellipse cx="1356.8000000000002" cy="725.6" rx="25" ry="26.4" fill="#55666f" opacity="0.55" filter="url(#blur1)"/><ellipse cx="1355.9" cy="724.4" rx="24.7" ry="26" fill="url(#gBrass)"/><ellipse cx="1355.9" cy="724.4" rx="24.4" ry="25.7" fill="none" stroke="#5f5842" stroke-width="0.7" opacity="0.55"/><ellipse cx="1355.9" cy="724.4" rx="23.4" ry="24.7" fill="none" stroke="#d9d0b4" stroke-width="0.9" opacity="0.6"/><ellipse cx="1355.5" cy="724.8" rx="17.8" ry="18.7" fill="#15120d"/><ellipse cx="1356.4" cy="724.0" rx="15.6" ry="16.2" fill="url(#gSteel)"/><ellipse cx="1355.7" cy="725.4" rx="11" ry="11.4" fill="#26272b"/><ellipse cx="1355.7" cy="725.4" rx="9.6" ry="10" fill="none" stroke="#c9c9c9" stroke-width="1.6" stroke-dasharray="0.9 1.6" opacity="0.65"/><ellipse cx="1355.6000000000001" cy="725.3" rx="7.8" ry="8.1" fill="url(#gLamp)"/><circle cx="1355.5" cy="724.6" r="2.3" fill="#fff7cf"/><circle cx="1355.5" cy="724.6" r="1.1" fill="#ffffff"/><ellipse cx="1433.6000000000001" cy="725.6" rx="25" ry="26.4" fill="#55666f" opacity="0.55" filter="url(#blur1)"/><ellipse cx="1432.7" cy="724.4" rx="24.7" ry="26" fill="url(#gBrass)"/><ellipse cx="1432.7" cy="724.4" rx="24.4" ry="25.7" fill="none" stroke="#5f5842" stroke-width="0.7" opacity="0.55"/><ellipse cx="1432.7" cy="724.4" rx="23.4" ry="24.7" fill="none" stroke="#d9d0b4" stroke-width="0.9" opacity="0.6"/><ellipse cx="1432.3" cy="724.8" rx="17.8" ry="18.7" fill="#15120d"/><ellipse cx="1433.2" cy="724.0" rx="15.6" ry="16.2" fill="url(#gSteel)"/><ellipse cx="1432.5" cy="725.4" rx="11" ry="11.4" fill="#26272b"/><ellipse cx="1432.5" cy="725.4" rx="9.6" ry="10" fill="none" stroke="#c9c9c9" stroke-width="1.6" stroke-dasharray="0.9 1.6" opacity="0.65"/><ellipse cx="1432.4" cy="725.3" rx="7.8" ry="8.1" fill="url(#gLamp)"/><circle cx="1432.3" cy="724.6" r="2.3" fill="#fff7cf"/><circle cx="1432.3" cy="724.6" r="1.1" fill="#ffffff"/>
<rect x="143.2" y="140.3" width="112.20000000000002" height="365.3" fill="#000" opacity="0.55" filter="url(#blur2)"/><rect x="141.2" y="137.3" width="111.20000000000002" height="364.3" fill="url(#gRack)"/><rect x="141.2" y="137.3" width="111.20000000000002" height="7" fill="#15171b"/><line x1="149" y1="140.6" x2="243.6" y2="140.6" stroke="#e8e8ea" stroke-width="4.6" stroke-dasharray="0.9 1.25"/><rect x="151.6" y="145" width="90.4" height="341" fill="#1b1d23"/><rect x="151.6" y="153" width="90.4" height="83.5" fill="#262830"/><rect x="161.3" y="167" width="69.8" height="57.6" fill="#121317"/><rect x="161.3" y="167" width="69.8" height="57.6" fill="none" stroke="#0b0b0d" stroke-width="0.8"/><rect x="192.4" y="225.6" width="6.6" height="1.6" fill="#6d7078"/><line x1="151.6" y1="153" x2="242" y2="153" stroke="#0e0f12" stroke-width="1"/><line x1="151.6" y1="237" x2="242" y2="237" stroke="#0c0d10" stroke-width="1.2"/><rect x="151.6" y="238" width="90.4" height="27" fill="#1e2026"/><rect x="154.2" y="244.6" width="23.2" height="12.8" fill="#aeb2b6"/><rect x="155" y="245.4" width="16" height="11.2" fill="#c6c9cd"/><rect x="194" y="247.4" width="26" height="2.6" fill="#9a9da3"/><rect x="194" y="251.4" width="26" height="3" fill="#7f8288"/><line x1="194" y1="248.7" x2="220" y2="248.7" stroke="#1e2026" stroke-width="2.6" stroke-dasharray="0.6 2.6" /><rect x="184" y="249" width="6.6" height="1.6" fill="#b9bcc2"/><rect x="184" y="253" width="6.6" height="1.6" fill="#b9bcc2"/><circle cx="228.4" cy="250.6" r="4.4" fill="#0c0d10"/><circle cx="228.4" cy="250.6" r="2.6" fill="#24262c"/><circle cx="184" cy="260.2" r="0.9" fill="#9a9da3"/><line x1="151.6" y1="265.8" x2="242" y2="265.8" stroke="#08090b" stroke-width="1.1"/><line x1="151.6" y1="266.8" x2="242" y2="266.8" stroke="#2a2d35" stroke-width="0.6"/><line x1="151.6" y1="293.2" x2="242" y2="293.2" stroke="#08090b" stroke-width="1.1"/><line x1="151.6" y1="294.2" x2="242" y2="294.2" stroke="#2a2d35" stroke-width="0.6"/><line x1="151.6" y1="320.6" x2="242" y2="320.6" stroke="#08090b" stroke-width="1.1"/><line x1="151.6" y1="321.6" x2="242" y2="321.6" stroke="#2a2d35" stroke-width="0.6"/><line x1="151.6" y1="348.3" x2="242" y2="348.3" stroke="#08090b" stroke-width="1.1"/><line x1="151.6" y1="349.3" x2="242" y2="349.3" stroke="#2a2d35" stroke-width="0.6"/><line x1="151.6" y1="375.4" x2="242" y2="375.4" stroke="#08090b" stroke-width="1.1"/><line x1="151.6" y1="376.4" x2="242" y2="376.4" stroke="#2a2d35" stroke-width="0.6"/><line x1="151.6" y1="403.2" x2="242" y2="403.2" stroke="#08090b" stroke-width="1.1"/><line x1="151.6" y1="404.2" x2="242" y2="404.2" stroke="#2a2d35" stroke-width="0.6"/><line x1="151.6" y1="430.8" x2="242" y2="430.8" stroke="#08090b" stroke-width="1.1"/><line x1="151.6" y1="431.8" x2="242" y2="431.8" stroke="#2a2d35" stroke-width="0.6"/><line x1="151.6" y1="458.2" x2="242" y2="458.2" stroke="#08090b" stroke-width="1.1"/><line x1="151.6" y1="459.2" x2="242" y2="459.2" stroke="#2a2d35" stroke-width="0.6"/><rect x="184.6" y="272.8" width="22.6" height="10" fill="#8e9198"/><rect x="185.4" y="273.6" width="21" height="3.4" fill="#e9ebee"/><rect x="186.6" y="277.6" width="18.6" height="3.6" fill="#b9bcc2"/><rect x="175" y="467.4" width="11.6" height="9" fill="none" stroke="#2e3fa8" stroke-width="1.6"/><rect x="179.2" y="466.6" width="3.2" height="10.6" fill="#1b1d23"/><path d="M182.6,467 L179.2,472.4 L181,472.4 L179,477 L183,471 L181.2,471 Z" fill="#e0352f"/><text x="189" y="473.6" font-size="6.6" font-weight="700" fill="#2a3a9c" textLength="29" lengthAdjust="spacingAndGlyphs">邦华电气</text><rect x="189" y="475" width="26" height="0.8" fill="#2a3a9c" opacity="0.7"/><rect x="141.2" y="486" width="111.20000000000002" height="15.6" fill="#0c0d10"/><line x1="152" y1="493" x2="242" y2="493" stroke="#2b2e36" stroke-width="7" stroke-dasharray="0.8 1.3"/><line x1="141.2" y1="486" x2="252.4" y2="486" stroke="#22242b" stroke-width="1"/><line x1="151.2" y1="145" x2="151.2" y2="486" stroke="#0a0b0d" stroke-width="0.9"/><line x1="242.4" y1="145" x2="242.4" y2="486" stroke="#0a0b0d" stroke-width="0.9"/>
<polygon points="121,787 246.6,797.5 265,784 265,780" fill="#777" opacity="0.3" filter="url(#blur1)"/><polygon points="245.8,559.2 263.6,576.4 264,782 246.6,795.4" fill="url(#gSide)"/><line x1="250.2" y1="578.0" x2="250.2" y2="770.0" stroke="#c9c9c9" stroke-width="1.1" stroke-dasharray="0.9 3.2" opacity="0.8"/><line x1="253.6" y1="581.2" x2="253.6" y2="767.5" stroke="#c9c9c9" stroke-width="1.1" stroke-dasharray="0.9 3.2" opacity="0.8"/><line x1="257" y1="584.4" x2="257" y2="765.0" stroke="#c9c9c9" stroke-width="1.1" stroke-dasharray="0.9 3.2" opacity="0.8"/><line x1="260.4" y1="587.6" x2="260.4" y2="762.5" stroke="#c9c9c9" stroke-width="1.1" stroke-dasharray="0.9 3.2" opacity="0.8"/><polygon points="119.2,572.1 204.4,566.3 204.4,791.9 118.9,785" fill="url(#gDoorE)"/><polygon points="204.4,566.3 245.8,559.2 246.6,795.4 204.4,791.9" fill="url(#gPanelE)"/><polygon points="119.2,572.1 245.8,559.2 245.9,566.6 119.2,579.2" fill="url(#gCap)"/><line x1="119.2" y1="579.2" x2="245.9" y2="566.6" stroke="#9a9a98" stroke-width="0.9" stroke-dasharray="9 1.2"/><line x1="119.2" y1="572.1" x2="245.8" y2="559.2" stroke="#e4e4e2" stroke-width="0.8"/><line x1="204.4" y1="571" x2="204.4" y2="784.6" stroke="#8f8f8d" stroke-width="1.1"/><line x1="205.6" y1="571" x2="205.6" y2="784.6" stroke="#e4e4e2" stroke-width="0.7"/><line x1="246" y1="560" x2="246.6" y2="795" stroke="#f4f4f4" stroke-width="1"/><line x1="119.5" y1="573" x2="119.1" y2="784.8" stroke="#bcbcba" stroke-width="0.8"/><polygon points="118.9,777.5 204.4,784.6 246.6,788.4 246.6,795.6 204.4,792 118.9,785.1" fill="#c9c9c7"/><polyline points="118.9,777.5 204.4,784.6 246.6,788.4" fill="none" stroke="#8e8e8c" stroke-width="0.9"/><polyline points="118.9,785.1 204.4,792 246.6,795.6" fill="none" stroke="#a2a2a0" stroke-width="0.9"/><rect x="137.3" y="593" width="20.6" height="15.7" fill="#17181c"/><rect x="141.3" y="596.4" width="11.8" height="6.8" fill="#8ea2c8"/><rect x="141.3" y="596.4" width="11.8" height="2.4" fill="#b3c1dd"/><line x1="140.4" y1="606.2" x2="154.6" y2="606.2" stroke="#8a8d94" stroke-width="1" stroke-dasharray="1.4 1.8"/><circle cx="163.8" cy="594.4" r="1.5" fill="#f3f3f1" stroke="#9b9b99" stroke-width="0.5"/><circle cx="163.8" cy="605.3" r="1.5" fill="#f3f3f1" stroke="#9b9b99" stroke-width="0.5"/><rect x="185.4" y="668.8" width="8.4" height="17.2" rx="3.4" fill="#9c9c9a"/><rect x="186.3" y="669.5" width="6.6" height="15.8" rx="2.8" fill="#f1f3f5"/><rect x="187.5" y="671.2" width="4.2" height="6.4" rx="1.5" fill="#fdfdfd" stroke="#c8c8c8" stroke-width="0.4"/><circle cx="189.6" cy="681" r="1.2" fill="#8fa6c6"/><g><rect x="212.2" y="574.8" width="7.589999999999999" height="6.6" fill="#2b3c9c"/><rect x="213.8698" y="576.12" width="4.2504" height="3.9599999999999995" fill="#e9e9ee"/><rect x="215.236" y="575.592" width="1.6697999999999997" height="5.016" fill="#d22a36"/><text x="220.79" y="579.5519999999999" font-size="5.28" font-weight="700" fill="#2a3f9a" textLength="18.41" lengthAdjust="spacingAndGlyphs">邦华电气</text><rect x="220.79" y="580.3439999999999" width="15.41" height="0.7" fill="#2a3f9a" opacity="0.6"/></g><line x1="216.1" y1="586.9" x2="216.1" y2="767.8" stroke="#6a6a68" stroke-width="7" stroke-dasharray="1.4 1.55"/><line x1="234.7" y1="585.3" x2="234.7" y2="769" stroke="#6a6a68" stroke-width="7.4" stroke-dasharray="1.4 1.55"/>
<text x="378.8" y="214.4" font-size="16.1" font-weight="900" fill="#000" text-anchor="start" stroke="#000" stroke-width="0.45" stroke-linejoin="round" textLength="145.2">应急照明分配电装置</text><text x="378.8" y="449.0" font-size="16.1" font-weight="900" fill="#000" text-anchor="start" stroke="#000" stroke-width="0.45" stroke-linejoin="round" textLength="145.2">应急照明分配电装置</text><text x="378.8" y="698.8" font-size="16.1" font-weight="900" fill="#000" text-anchor="start" stroke="#000" stroke-width="0.45" stroke-linejoin="round" textLength="145.2">应急照明分配电装置</text><text x="195.6" y="522.0999999999999" font-size="16.1" font-weight="900" fill="#000" text-anchor="start" stroke="#000" stroke-width="0.45" stroke-linejoin="round" textLength="113">应急照明控制器</text><text x="264.6" y="778.0" font-size="16.1" font-weight="900" fill="#000" text-anchor="start" stroke="#000" stroke-width="0.45" stroke-linejoin="round" textLength="129.2">应急照明专用电源</text><text y="798.4" font-size="16.1" font-weight="900" fill="#000" stroke="#000" stroke-width="0.4" stroke-linejoin="round"><tspan x="287.3">（</tspan><tspan x="304.6" y="798" font-size="15.8" font-weight="700" stroke-width="0.75" textLength="25.6" lengthAdjust="spacingAndGlyphs">EPS</tspan><tspan x="329.6" y="798.4" textLength="32.4">电源</tspan><tspan x="363.3">）</tspan></text><text x="584.3" y="224.6" font-size="10.8" font-weight="900" fill="#000" text-anchor="start" stroke="#000" stroke-width="0.25" stroke-linejoin="round" textLength="184">集中电源集中控制型消防应急标志灯具</text><text x="908.8" y="224.6" font-size="10.8" font-weight="900" fill="#000" text-anchor="start" stroke="#000" stroke-width="0.25" stroke-linejoin="round" textLength="184">集中电源集中控制型消防应急标志灯具</text><text x="1244.3" y="224.6" font-size="10.8" font-weight="900" fill="#000" text-anchor="start" stroke="#000" stroke-width="0.25" stroke-linejoin="round" textLength="184">集中电源集中控制型消防应急标志灯具</text><text x="583.8" y="502.90000000000003" font-size="10.8" font-weight="900" fill="#000" text-anchor="start" stroke="#000" stroke-width="0.25" stroke-linejoin="round" textLength="184">集中电源集中控制型消防应急标志灯具</text><text x="908.8" y="502.90000000000003" font-size="10.8" font-weight="900" fill="#000" text-anchor="start" stroke="#000" stroke-width="0.25" stroke-linejoin="round" textLength="184">集中电源集中控制型消防应急标志灯具</text><text x="1244.3" y="502.90000000000003" font-size="10.8" font-weight="900" fill="#000" text-anchor="start" stroke="#000" stroke-width="0.25" stroke-linejoin="round" textLength="184">集中电源集中控制型消防应急标志灯具</text><text x="583.5" y="790.1" font-size="10.8" font-weight="900" fill="#000" text-anchor="start" stroke="#000" stroke-width="0.25" stroke-linejoin="round" textLength="184">集中电源集中控制型消防应急标志灯具</text><text x="908.8" y="790.1" font-size="10.8" font-weight="900" fill="#000" text-anchor="start" stroke="#000" stroke-width="0.25" stroke-linejoin="round" textLength="184">集中电源集中控制型消防应急标志灯具</text><text x="1244.3" y="790.1" font-size="10.8" font-weight="900" fill="#000" text-anchor="start" stroke="#000" stroke-width="0.25" stroke-linejoin="round" textLength="184">集中电源集中控制型消防应急标志灯具</text><text x="69 69 69 69 69" y="644.6 661.5 678.4 695.3 712.2" font-size="16.4" font-weight="700" fill="#000" stroke="#000" stroke-width="0.3" stroke-linejoin="round">外接电源线</text><circle cx="450.8" cy="461" r="2.5" fill="#111"/><circle cx="450.8" cy="470.6" r="2.5" fill="#111"/><circle cx="450.8" cy="480" r="2.5" fill="#111"/>
</svg>
</body>
</html>
